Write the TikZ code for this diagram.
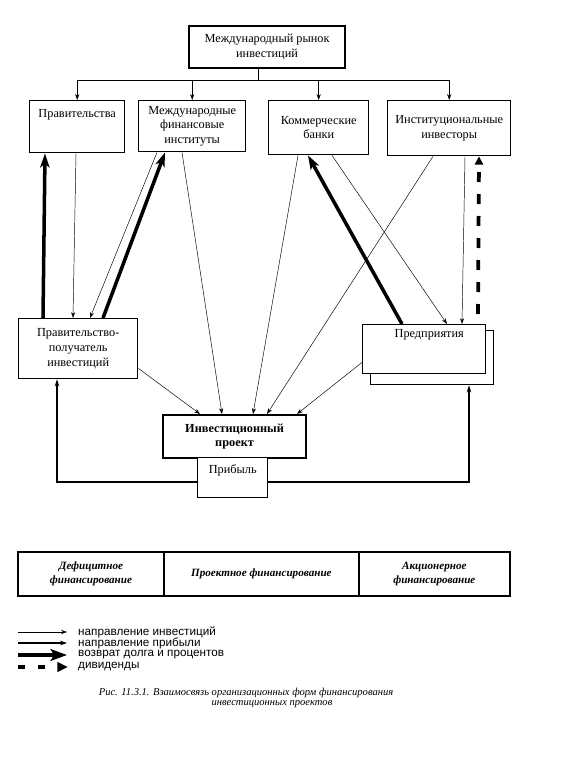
\documentclass[tikz,border=0pt]{standalone}
\usepackage{fontspec}
\setmainfont{Liberation Serif}
\setsansfont{Liberation Sans}
\usetikzlibrary{arrows.meta,positioning,calc}

\begin{document}
\begin{tikzpicture}[x=0.3mm,y=-0.3mm,
  box/.style={draw,line width=1.2pt,anchor=north west,inner sep=0pt,fill=white,
    font=\fontsize{10.5}{12.5}\selectfont,align=center},
  main/.style={box,line width=1.8pt},
  txt/.style={inner sep=0pt,font=\fontsize{10.5}{12.5}\selectfont},
  cell/.style={draw,line width=0.8pt,anchor=north west,inner sep=0pt,align=center,
    minimum height=12.9mm,font=\fontsize{9.5}{11.5}\selectfont\bfseries\itshape},
  key/.style={anchor=west,inner sep=0pt,font=\sffamily\fontsize{10}{12}\selectfont},
  inv/.style={line width=0.4pt,-{Stealth[length=5pt,width=3.5pt]}},
  prof/.style={line width=0.9pt,-{Stealth[length=6pt,width=4pt]}},
  ret/.style={line width=3pt,-{Stealth[length=12pt,width=8pt,inset=3pt]}},
  div/.style={line width=3.2pt,dash pattern=on 3mm off 3.6mm,-{Triangle[length=7pt,width=7pt]}}]
  \useasboundingbox (0,0) rectangle (587,757);

  % участники
  \node[main,minimum width=46.8mm,minimum height=12.6mm] (top) at (188,25)
    {Международный рынок\\инвестиций};
  \node[box,minimum width=28.5mm,minimum height=15.6mm] (gov) at (29,100) {};
  \node[txt] (govtxt) at ($(gov.north)+(0,15)$) {Правительства};
  \node[box,minimum width=32.1mm,minimum height=15.3mm] (mfi) at (138,100)
    {Международные\\финансовые\\институты};
  \node[box,minimum width=30mm,minimum height=16.2mm] (kb) at (268,100)
    {Коммерческие\\банки};
  \node[box,minimum width=36.9mm,minimum height=16.5mm] (ii) at (387,100)
    {Институциональные\\инвесторы};

  \node[box,minimum width=35.7mm,minimum height=18mm] (recip) at (18,318)
    {Правительство-\\получатель\\инвестиций};
  \node[box,minimum width=36.9mm,minimum height=16.2mm] (firmback) at (370,330) {};
  \node[box,minimum width=36.9mm,minimum height=14.7mm] (firm) at (362,324) {};
  \node[txt] (firmtxt) at ($(firm.north)+(5,11)$) {Предприятия};

  \node[main,minimum width=42.9mm,minimum height=12.9mm,font=\fontsize{10.5}{12.5}\selectfont\bfseries]
    (proj) at (162,414) {Инвестиционный\\проект};
  \node[box,minimum width=21mm,minimum height=12mm] (profit) at (197,457) {};
  \node[txt] (profittxt) at ($(profit.north)+(0,13)$) {Прибыль};

  % рынок -> участники
  \foreach \t in {gov,mfi,kb,ii}
    \draw[inv] ($(top.south)+(-9,0)$) -- ++(0,11) -| (\t.north);

  % потоки
  \draw[inv] ($(gov.south west)+(47,0)$) -- ($(recip.north west)+(55,0)$);
  \draw[ret] ($(recip.north west)+(25,0)$) -- ($(gov.south west)+(16,0)$);
  \draw[inv] ($(mfi.south west)+(19,0)$) -- ($(recip.north west)+(72,0)$);
  \draw[ret] ($(recip.north west)+(85,0)$) -- ($(mfi.south west)+(27,0)$);
  \draw[inv] ($(mfi.south west)+(44,0)$) -- ($(proj.north west)+(60,0)$);
  \draw[inv] ($(kb.south west)+(30,0)$) -- ($(proj.north west)+(91,0)$);
  \draw[inv] ($(kb.south west)+(64,0)$) -- ($(firm.north west)+(85,0)$);
  \draw[ret] ($(firm.north west)+(40,0)$) -- ($(kb.south west)+(40,0)$);
  \draw[inv] ($(ii.south west)+(46,0)$) -- ($(proj.north west)+(105,0)$);
  \draw[inv] ($(ii.south west)+(78,0)$) -- ($(firm.north west)+(100,0)$);
  \draw[div] ($(firm.north west)+(116,-10)$) -- ($(ii.south west)+(92,0)$);
  \draw[inv] ($(recip.south east)+(0,-11)$) -- ($(proj.north west)+(38,0)$);
  \draw[inv] ($(firm.south west)+(0,-12)$) -- ($(proj.north west)+(135,0)$);
  \draw[prof] ($(profit.north west)+(0,25)$) -| ($(recip.south west)+(39,0)$);
  \draw[prof] ($(profit.north east)+(0,25)$) -| ($(firmback.south west)+(99,0)$);

  % формы финансирования
  \node[cell,minimum width=43.5mm] (deficit) at (18,552) {Дефицитное\\финансирование};
  \node[cell,minimum width=58.2mm] (projfin) at (deficit.north east) {Проектное финансирование};
  \node[cell,minimum width=45mm] (equity) at (projfin.north east) {Акционерное\\финансирование};
  \draw[line width=1.6pt] (deficit.north west) rectangle (equity.south east);

  % легенда
  \coordinate (k1a) at (18,632); \coordinate (k1b) at (67,632);
  \coordinate (k2a) at (18,643); \coordinate (k2b) at (67,643);
  \coordinate (k3a) at (18,655); \coordinate (k3b) at (67,655);
  \coordinate (k4a) at (18,667); \coordinate (k4b) at (68,667);
  \draw[inv] (k1a) -- (k1b);
  \draw[prof] (k2a) -- (k2b);
  \draw[line width=3.6pt,-{Stealth[length=14pt,width=10pt,inset=3pt]}] (k3a) -- (k3b);
  \draw[line width=3.2pt,dash pattern=on 2.1mm off 3.9mm,-{Triangle[length=9pt,width=8pt]}] (k4a) -- (k4b);
  \node[key] (key1) at (78,632) {направление инвестиций};
  \node[key] (key2) at (78,643) {направление прибыли};
  \node[key] (key3) at (78,655) {возврат долга и процентов};
  \node[key] (key4) at (78,667) {дивиденды};

  \node[font=\fontsize{9}{11}\selectfont\itshape,inner sep=0pt] (cap1) at (246,693)
    {Рис. 11.3.1. Взаимосвязь организационных форм финансирования};
  \node[font=\fontsize{9}{11}\selectfont\itshape,inner sep=0pt] (cap2) at (272,704)
    {инвестиционных проектов};
\end{tikzpicture}
\end{document}
